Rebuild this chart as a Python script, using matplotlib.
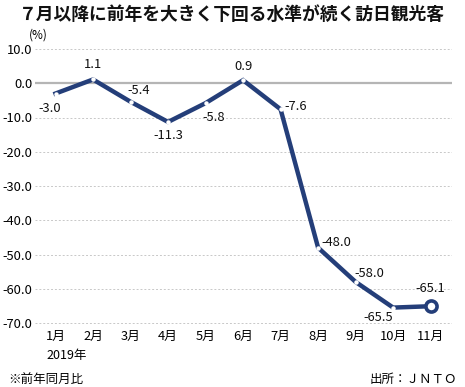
import matplotlib
matplotlib.use("Agg")
import matplotlib.pyplot as plt

plt.rcParams['font.family'] = ['Noto Sans CJK JP', 'DejaVu Sans']

months = ["1月", "2月", "3月", "4月", "5月", "6月", "7月", "8月", "9月", "10月", "11月"]
values = [-3.0, 1.1, -5.4, -11.3, -5.8, 0.9, -7.6, -48.0, -58.0, -65.5, -65.1]
yticks = [10, 0, -10, -20, -30, -40, -50, -60, -70]
# label offsets in points (dx, dy)
label_offsets = [(-4, -11), (0, 11), (6, 8), (0, -10), (6, -10), (0, 10), (11, 2), (13, 4), (10, 6), (-11, -7), (0, 13)]

navy = "#243e79"

fig = plt.figure(figsize=(4.65, 3.87), dpi=100)
ax = fig.add_axes([35/465, 1-329.85/387, (452-35)/465, (329.85-42.15)/387])

x = list(range(len(values)))
ax.plot(x, values, color=navy, lw=3.2, solid_joinstyle='miter', zorder=3)
ax.plot(x[:-1], values[:-1], 'o', ms=2.2, mfc='white', mec='white', zorder=4)
ax.plot(x[-1], values[-1], 'o', ms=8, mfc='white', mec=navy, mew=2.6, zorder=5)

for i, v in enumerate(values):
    dx, dy = label_offsets[i]
    ax.annotate(f"{v:.1f}", (i, v), xytext=(dx, dy), textcoords='offset points',
                ha='center', va='center', fontsize=9.3, color='#111111', zorder=6)

ax.set_xlim(-0.547, 10.57)
ax.set_ylim(-72, 12)
ax.set_yticks(yticks)
ax.set_yticklabels([f"{t:.1f}" for t in yticks], fontsize=9.3)
ax.set_xticks(x)
ax.set_xticklabels(months, fontsize=9.3)
ax.tick_params(length=0, pad=2)
ax.tick_params(axis='x', pad=0)
for s in ax.spines.values():
    s.set_visible(False)
for t in yticks:
    if t == 0:
        ax.axhline(0, color='#b5b5b5', lw=1.6, zorder=1)
    else:
        ax.axhline(t, color='#c8c8c8', lw=0.7, ls=(0, (2, 2)), zorder=1)

fig.text(232/465, 1-15/387, "７月以降に前年を大きく下回る水準が続く訪日観光客", ha='center', va='center',
         fontsize=12.8, fontweight='bold', color='#111111')
fig.text(38/465, 1-35/387, "(%)", ha='center', va='center', fontsize=8.5)
fig.text(67/465, 1-356/387, "2019年", ha='center', va='center', fontsize=9)
fig.text(8/465, 1-379/387, "※前年同月比", ha='left', va='center', fontsize=9)
fig.text(457/465, 1-379/387, "出所：ＪＮＴＯ", ha='right', va='center', fontsize=9)

fig.savefig("out.png", dpi=100)
